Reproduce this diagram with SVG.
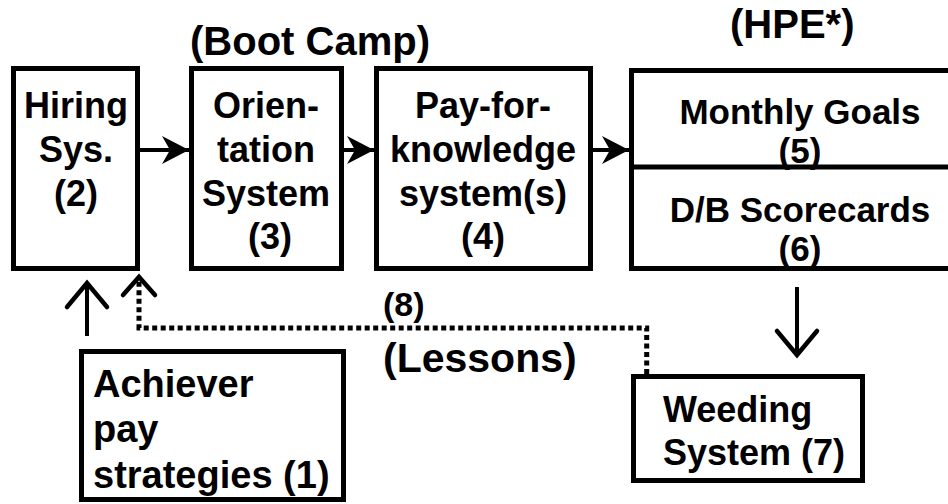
<svg xmlns="http://www.w3.org/2000/svg" width="948" height="504" viewBox="0 0 948 504">
<style>
text{font-family:"Liberation Sans",Arial,sans-serif;font-weight:bold;font-size:36px;fill:#000}
.c{text-anchor:middle}
.box{fill:#fff;stroke:#000;stroke-width:5}
.ln{fill:none;stroke:#000;stroke-width:4}
.dot{fill:none;stroke:#000;stroke-width:5;stroke-dasharray:5 3.5}
</style>
<defs>
<marker id="fa" viewBox="-30 -16 32 32" refX="0" refY="0" markerWidth="32" markerHeight="32" markerUnits="userSpaceOnUse" orient="auto">
<path d="M0,0 L-27,-14 L-19,0 L-27,14 Z" fill="#000"/>
</marker>
<marker id="oa" viewBox="-30 -24 34 48" refX="0" refY="0" markerWidth="34" markerHeight="48" markerUnits="userSpaceOnUse" orient="auto">
<path d="M-24,-20 L0,0 L-24,20" fill="none" stroke="#000" stroke-width="4.5" stroke-linecap="round" stroke-linejoin="miter"/>
</marker>
</defs>
<text x="190" y="55" style="font-size:40px">(Boot Camp)</text>
<text x="730" y="38" style="font-size:40px">(HPE*)</text>
<g id="connectors">
<line class="ln" x1="140" y1="150" x2="189" y2="150" marker-end="url(#fa)"/>
<line class="ln" x1="344" y1="150" x2="374" y2="150" marker-end="url(#fa)"/>
<line class="ln" x1="593" y1="150" x2="629" y2="150" marker-end="url(#fa)"/>
<line class="ln" x1="87" y1="336" x2="87" y2="283" marker-end="url(#oa)"/>
<line class="ln" x1="797" y1="287" x2="797" y2="355" marker-end="url(#oa)"/>
<path class="dot" d="M646.7,374 V328 H139 V279"/>
<path d="M123,295 L139,277 L155,295" fill="none" stroke="#000" stroke-width="4.5" stroke-linecap="round"/>
<text x="383" y="316" style="font-size:34px">(8)</text>
<text x="383" y="372" style="font-size:41px">(Lessons)</text>
</g>
<g id="hiring">
<rect class="box" x="13.5" y="68.5" width="124" height="200"/>
<text class="c" x="76" y="118">Hiring</text>
<text class="c" x="76" y="162">Sys.</text>
<text class="c" x="76" y="206">(2)</text>
</g>
<g id="orientation">
<rect class="box" x="191.5" y="68.5" width="150" height="200"/>
<text class="c" x="266" y="118">Orien-</text>
<text class="c" x="266" y="162">tation</text>
<text class="c" x="266" y="206">System</text>
<text class="c" x="270" y="249">(3)</text>
</g>
<g id="payforknowledge">
<rect class="box" x="376.5" y="68.5" width="214" height="200"/>
<text class="c" x="483" y="118">Pay-for-</text>
<text class="c" x="483" y="162">knowledge</text>
<text class="c" x="483" y="206">system(s)</text>
<text class="c" x="483" y="249">(4)</text>
</g>
<g id="hpe">
<rect class="box" x="631.5" y="70.5" width="330" height="198"/>
<line x1="631.5" y1="167" x2="948" y2="167" stroke="#000" stroke-width="5"/>
<text class="c" x="800" y="124" style="font-size:35px">Monthly Goals</text>
<text class="c" x="800" y="163" style="font-size:35px">(5)</text>
<text class="c" x="800" y="222" style="font-size:35px">D/B Scorecards</text>
<text class="c" x="800" y="261" style="font-size:35px">(6)</text>
</g>
<g id="achiever">
<rect class="box" x="81.5" y="351.5" width="262" height="148"/>
<text x="93" y="397" style="font-size:38px">Achiever</text>
<text x="93" y="442" style="font-size:38px">pay</text>
<text x="93" y="488" style="font-size:38px">strategies (1)</text>
</g>
<g id="weeding">
<rect class="box" x="633.5" y="376.5" width="229" height="104"/>
<text x="663" y="422">Weeding</text>
<text x="663" y="465">System (7)</text>
</g>
</svg>
